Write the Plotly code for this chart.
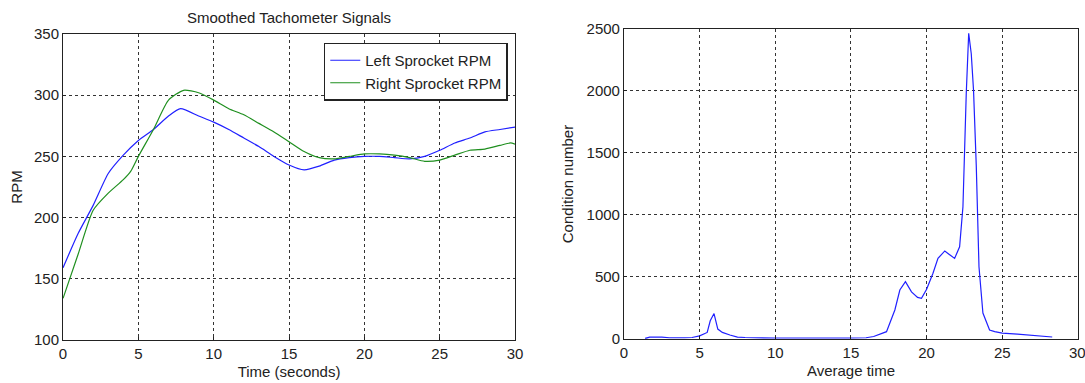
import plotly.graph_objects as go

# Left panel: smoothed tachometer signals
time_s = [0, 1, 2, 3, 4, 5, 6, 7, 7.8, 9, 10, 11, 12, 13, 14, 15, 16, 17, 18, 19, 20, 21, 22, 23, 24, 25, 26, 27, 28, 29, 30]
left_rpm = [159, 187, 210, 236, 251, 263, 272, 283, 289, 283, 278, 272, 265, 258, 250, 243, 239, 242, 247, 249, 250, 250, 249, 248, 250, 255, 261, 265, 270, 272, 274]
time_r = [0, 1, 2, 3, 4, 4.5, 5, 6, 7, 8, 9, 10, 11, 12, 13, 14, 15, 16, 17, 18, 19, 20, 21, 22, 23, 24, 25, 26, 27, 28, 29, 29.7, 30]
right_rpm = [134, 170, 206, 220, 231, 238, 250, 272, 296, 304, 302, 296, 289, 284, 277, 270, 262, 254, 249, 248, 250, 252, 252, 251, 249, 246, 247, 251, 255, 256, 259, 261, 260]

# Right panel: condition number vs average time
avg_time = [1.4, 1.7, 2.5, 3.0, 4.0, 4.5, 5.0, 5.5, 5.7, 5.95, 6.2, 6.5, 7.0, 7.5, 8.0, 10.0, 15.0, 16.0, 16.5, 17.0, 17.35, 17.9, 18.23, 18.6, 19.0, 19.4, 19.66, 20.0, 20.42, 20.75, 21.2, 21.5, 21.85, 22.18, 22.4, 22.62, 22.78, 22.95, 23.1, 23.28, 23.46, 23.72, 24.16, 24.5, 25.0, 26.0, 27.0, 28.3]
cond_num = [5, 15, 15, 10, 10, 12, 25, 53, 147, 205, 80, 53, 32, 15, 12, 8, 8, 10, 20, 40, 59, 234, 395, 462, 380, 335, 328, 401, 530, 650, 710, 682, 650, 744, 1067, 1984, 2465, 2300, 2005, 1400, 583, 209, 72, 60, 48, 40, 32, 16]

x_ticks = [0, 5, 10, 15, 20, 25, 30]

font_family = "Arial, Liberation Sans, sans-serif"
txt = "#222222"
fs = 15

fig = go.Figure()
fig.add_trace(go.Scatter(x=time_s, y=left_rpm, mode="lines", name="Left Sprocket RPM",
                         line=dict(color="#2020ff", width=1.2, shape="spline", smoothing=0.6),
                         xaxis="x", yaxis="y"))
fig.add_trace(go.Scatter(x=time_r, y=right_rpm, mode="lines", name="Right Sprocket RPM",
                         line=dict(color="#1f8f1f", width=1.2, shape="spline", smoothing=0.6),
                         xaxis="x", yaxis="y"))
fig.add_trace(go.Scatter(x=avg_time, y=cond_num, mode="lines", showlegend=False,
                         line=dict(color="#2020ff", width=1.2),
                         xaxis="x2", yaxis="y2"))

axis_common = dict(showline=True, linecolor="#222222", linewidth=1, mirror=True,
                   showgrid=True, gridcolor="#333333", gridwidth=1, griddash="3px,3px",
                   zeroline=False, ticks="inside", ticklen=3, tickcolor="#222222",
                   automargin=False,
                   tickfont=dict(family=font_family, size=fs, color=txt))

fig.update_layout(
    width=1085, height=383,
    margin=dict(l=0, r=0, t=0, b=0, autoexpand=False),
    paper_bgcolor="white", plot_bgcolor="white",
    font=dict(family=font_family, size=fs, color=txt),
    showlegend=True,
    legend=dict(x=0.468, xanchor="right", y=0.889, yanchor="top",
                bordercolor="#222222", borderwidth=1.5, bgcolor="white",
                font=dict(family=font_family, size=fs, color=txt),
                tracegroupgap=0, itemwidth=30),
    xaxis=dict(domain=[0.0581, 0.4747], range=[0, 30], tickvals=x_ticks,
               title=dict(text="Time (seconds)", standoff=5, font=dict(size=fs)), anchor="y", **axis_common),
    yaxis=dict(domain=[0.1123, 0.9112], range=[100, 350], tickvals=[100, 150, 200, 250, 300, 350],
               title=dict(text="RPM", standoff=7, font=dict(size=fs)), anchor="x", **axis_common),
    xaxis2=dict(domain=[0.5751, 0.9935], range=[0, 30], tickvals=x_ticks[:-1],
                title=dict(text="Average time", standoff=5, font=dict(size=fs)), anchor="y2", **axis_common),
    yaxis2=dict(domain=[0.1149, 0.9243], range=[0, 2500], tickvals=[0, 500, 1000, 1500, 2000, 2500],
                title=dict(text="Condition number", standoff=9, font=dict(size=fs)), anchor="x2", **axis_common),
    annotations=[
        dict(text="Smoothed Tachometer Signals", x=0.2664, y=1 - 17 / 383, xref="paper", yref="paper",
             xanchor="center", yanchor="middle", showarrow=False,
             font=dict(family=font_family, size=fs, color=txt)),
        # last tick label of the right axis, drawn as annotation so it is not dropped at the page edge
        dict(text=str(x_ticks[-1]), x=x_ticks[-1], y=0, xref="x2", yref="y2",
             xanchor="center", yanchor="top", yshift=-3, showarrow=False,
             font=dict(family=font_family, size=fs, color=txt)),
    ],
)

fig.write_html("out.html")
